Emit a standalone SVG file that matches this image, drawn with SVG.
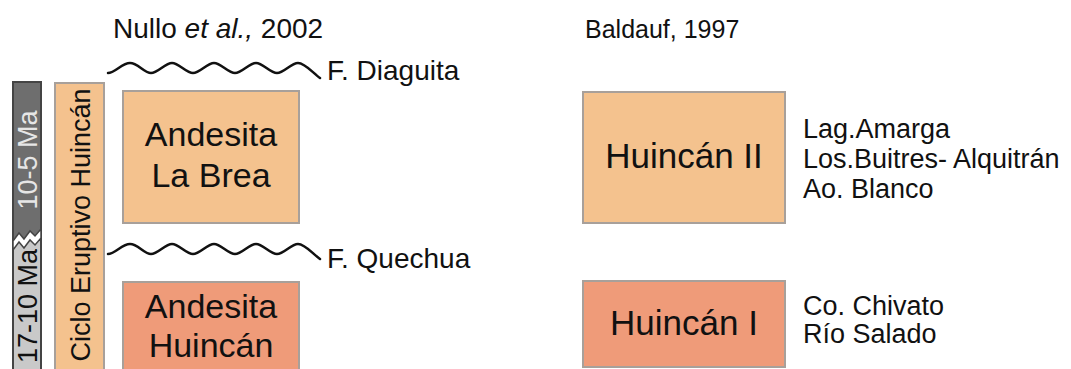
<svg xmlns="http://www.w3.org/2000/svg" width="1071" height="369" viewBox="0 0 1071 369">
<style>
text{font-family:"Liberation Sans",Arial,sans-serif;fill:#111}
.title{font-size:25px}
.big{font-size:34px;text-anchor:middle}
.side{font-size:27px}
.flbl{font-size:28px}
.lbl{font-size:27px;text-anchor:middle}
.lt{fill:#F4C28E;stroke:#A8A09A;stroke-width:2}
.dk{fill:#EF9B79;stroke:#A8A09A;stroke-width:2}
.wave{fill:none;stroke:#111;stroke-width:2.5;stroke-linecap:round}
</style>
<defs>
<path id="wv" d="M0,5 C7,5 14,-5 22,-5 S36,5 43,5 S57,-5 64,-5 S78,5 85,5 S99,-5 106,-5 S120,5 127,5 S141,-5 148,-5 S162,5 169,5 S183,-5 190,-5 S205,5 212,10"/>
</defs>
<g id="time-bar">
<rect x="13" y="82" width="28" height="158" fill="#6E6E6E" stroke="#444" stroke-width="2"/>
<rect x="13" y="240" width="28" height="135" fill="#C9C9C9" stroke="#444" stroke-width="2"/>
<polygon points="13,241 19,233 24,239 30,231 35,236 41,229 41,238 35,245 30,240 24,248 19,242 13,250" fill="#fff" stroke="#444" stroke-width="1.5"/>
<text class="lbl" transform="translate(37,160) rotate(-90)" style="fill:#E6E6E6">10-5 Ma</text>
<text class="lbl" transform="translate(37,306) rotate(-90)">17-10 Ma</text>
</g>
<g id="ciclo">
<rect x="55" y="83" width="49" height="292" class="lt"/>
<text class="lbl" transform="translate(90,225) rotate(-90)">Ciclo Eruptivo Huincán</text>
</g>
<g id="title-nullo"><text class="title" x="113" y="38" style="font-size:28px">Nullo <tspan font-style="italic">et al.,</tspan> 2002</text></g>
<g id="title-baldauf"><text class="title" x="585" y="38">Baldauf, 1997</text></g>
<g id="connectors">
<use href="#wv" class="wave" transform="translate(108,68)"/>
<use href="#wv" class="wave" transform="translate(108,249)"/>
</g>
<g id="f-diaguita"><text class="flbl" x="327" y="80">F. Diaguita</text></g>
<g id="f-quechua"><text class="flbl" x="327" y="268">F. Quechua</text></g>
<g id="andesita-la-brea">
<rect x="123" y="91" width="176" height="132" class="lt"/>
<text class="big" x="211" y="146">Andesita</text>
<text class="big" x="211" y="187">La Brea</text>
</g>
<g id="andesita-huincan">
<rect x="123" y="282" width="176" height="95" class="dk"/>
<text class="big" x="211" y="318">Andesita</text>
<text class="big" x="211" y="357">Huincán</text>
</g>
<g id="huincan-ii">
<rect x="583" y="92" width="202" height="131" class="lt"/>
<text class="big" x="684" y="168" style="font-size:35px">Huincán II</text>
</g>
<g id="huincan-ii-loc">
<text class="side" x="803" y="138">Lag.Amarga</text>
<text class="side" x="803" y="168">Los.Buitres- Alquitrán</text>
<text class="side" x="803" y="198">Ao. Blanco</text>
</g>
<g id="huincan-i">
<rect x="583" y="281" width="202" height="86" class="dk"/>
<text class="big" x="684" y="335" style="font-size:35px">Huincán I</text>
</g>
<g id="huincan-i-loc">
<text class="side" x="803" y="315">Co. Chivato</text>
<text class="side" x="803" y="343">Río Salado</text>
</g>
</svg>
